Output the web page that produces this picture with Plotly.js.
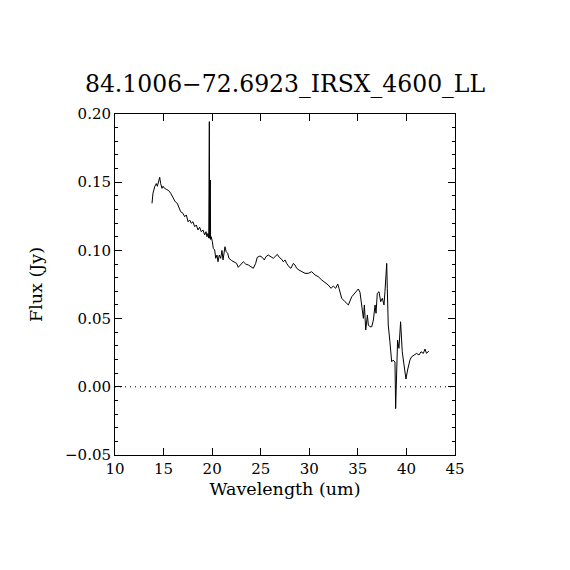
<!DOCTYPE html>
<html>
<head>
<meta charset="utf-8">
<script src="https://cdn.plot.ly/plotly-3.0.1.min.js"></script>
<style>html,body{margin:0;padding:0;background:#fff;}#chart{width:570px;height:570px;}</style>
</head>
<body>
<div id="chart"></div>
<script>
const chartTitle = "84.1006\u221272.6923_IRSX_4600_LL";
const xLabel = "Wavelength (um)";
const yLabel = "Flux (Jy)";

const wavelength = [
  13.81, 13.91, 14.09, 14.25, 14.36, 14.50, 14.60, 14.70, 14.84, 14.94,
  15.10, 15.28, 15.53, 15.73, 15.87, 16.07, 16.20, 16.41, 16.56, 16.76,
  17.00, 17.17, 17.34, 17.52, 17.69, 17.85, 18.03, 18.20, 18.37, 18.54,
  18.71, 18.88, 19.06, 19.23, 19.37, 19.47, 19.57, 19.65, 19.71, 19.74,
  19.81, 19.84, 19.91, 20.02, 20.12, 20.26, 20.37, 20.50, 20.60, 20.74,
  20.88, 21.01, 21.12, 21.32, 21.45, 21.60, 21.73, 22.01, 22.28, 22.52,
  22.69, 22.87, 23.04, 23.21, 23.45, 23.73, 24.00, 24.24, 24.48, 24.64,
  24.92, 25.16, 25.37, 25.54, 25.78, 26.06, 26.30, 26.47, 26.71, 26.91,
  27.16, 27.32, 27.50, 27.67, 27.91, 28.11, 28.36, 28.53, 28.70, 28.94,
  29.22, 29.56, 29.90, 30.25, 30.59, 30.93, 31.28, 31.62, 31.96, 32.24,
  32.47, 32.72, 32.93, 33.06, 33.34, 33.68, 34.02, 34.37, 34.71, 35.05,
  35.22, 35.46, 35.57, 35.67, 35.81, 35.98, 36.08, 36.25, 36.43, 36.60,
  36.77, 36.87, 37.00, 37.18, 37.35, 37.52, 37.69, 37.79, 37.97, 38.03,
  38.13, 38.30, 38.48, 38.64, 38.82, 38.89, 38.99, 39.09, 39.23, 39.40,
  39.57, 39.78, 39.95, 40.12, 40.36, 40.53, 40.80, 41.05, 41.29, 41.50,
  41.74, 41.91, 42.07, 42.30
];

const flux = [
  0.1345, 0.1419, 0.1467, 0.1490, 0.1470, 0.1516, 0.1536, 0.1490, 0.1455, 0.1470,
  0.1455, 0.1448, 0.1438, 0.1419, 0.1400, 0.1375, 0.1357, 0.1345, 0.1316, 0.1284,
  0.1272, 0.1247, 0.1260, 0.1210, 0.1223, 0.1199, 0.1210, 0.1174, 0.1186, 0.1150,
  0.1170, 0.1137, 0.1150, 0.1113, 0.1137, 0.1100, 0.1125, 0.1090, 0.1944, 0.1089,
  0.1516, 0.1080, 0.1100, 0.1064, 0.1015, 0.1003, 0.0942, 0.0966, 0.0917, 0.0966,
  0.0942, 0.1000, 0.0930, 0.1027, 0.0990, 0.0979, 0.0942, 0.0925, 0.0917, 0.0905,
  0.0876, 0.0893, 0.0905, 0.0917, 0.0900, 0.0893, 0.0880, 0.0869, 0.0905, 0.0949,
  0.0959, 0.0949, 0.0930, 0.0954, 0.0966, 0.0954, 0.0942, 0.0954, 0.0971, 0.0949,
  0.0935, 0.0917, 0.0930, 0.0905, 0.0880, 0.0869, 0.0905, 0.0893, 0.0869, 0.0856,
  0.0844, 0.0832, 0.0832, 0.0844, 0.0820, 0.0807, 0.0783, 0.0763, 0.0746, 0.0722,
  0.0739, 0.0722, 0.0754, 0.0722, 0.0649, 0.0624, 0.0600, 0.0660, 0.0685, 0.0717,
  0.0693, 0.0539, 0.0502, 0.0600, 0.0416, 0.0526, 0.0453, 0.0440, 0.0440, 0.0490,
  0.0600, 0.0539, 0.0685, 0.0697, 0.0624, 0.0649, 0.0600, 0.0697, 0.0905, 0.0722,
  0.0453, 0.0330, 0.0184, 0.0196, 0.0180, -0.0160, 0.0099, 0.0343, 0.0282, 0.0477,
  0.0257, 0.0160, 0.0057, 0.0123, 0.0196, 0.0220, 0.0233, 0.0245, 0.0233, 0.0257,
  0.0245, 0.0277, 0.0245, 0.0262
];

const xTickVals = [10, 15, 20, 25, 30, 35, 40, 45];
const yTickVals = [-0.05, 0.00, 0.05, 0.10, 0.15, 0.20];

const FONT = "DejaVu Serif, Liberation Serif, serif";

const trace = {
  x: wavelength,
  y: flux,
  type: "scatter",
  mode: "lines",
  line: {color: "#000", width: 1},
  hoverinfo: "skip"
};

const layout = {
  width: 570,
  height: 570,
  paper_bgcolor: "#fff",
  plot_bgcolor: "#fff",
  showlegend: false,
  margin: {l: 115, r: 115, t: 114, b: 115, pad: 0},
  font: {family: FONT, color: "#000", size: 15},
  title: {
    text: chartTitle,
    font: {family: FONT, size: 23.5, color: "#000"},
    x: 0.5, xanchor: "center",
    y: 1 - 84/570, yanchor: "middle", yref: "container"
  },
  xaxis: {
    range: [10, 45],
    tickvals: xTickVals,
    ticktext: xTickVals.map(v => String(v)),
    ticks: "inside",
    ticklen: 7,
    tickwidth: 1,
    tickcolor: "#000",
    showline: true,
    linecolor: "#000",
    linewidth: 1,
    mirror: "ticks",
    showgrid: false,
    zeroline: false,
    tickfont: {family: FONT, size: 15, color: "#000"},
    title: {text: xLabel, font: {family: FONT, size: 17.5, color: "#000"}, standoff: 5}
  },
  yaxis: {
    range: [-0.05, 0.20],
    tickvals: yTickVals,
    tickformat: ".2f",
    ticks: "inside",
    ticklen: 7,
    tickwidth: 1,
    tickcolor: "#000",
    minor: {dtick: 0.01, ticks: "inside", ticklen: 3, tickcolor: "#000", tickwidth: 1, showgrid: false},
    showline: true,
    linecolor: "#000",
    linewidth: 1,
    mirror: "ticks",
    showgrid: false,
    zeroline: false,
    tickfont: {family: FONT, size: 15, color: "#000"},
    title: {text: yLabel, font: {family: FONT, size: 17.5, color: "#000"}, standoff: 17}
  },
  shapes: [{
    type: "line", xref: "paper", x0: 0, x1: 1, yref: "y", y0: 0, y1: 0,
    line: {color: "#000", width: 1, dash: "1px,4px"}
  }]
};

Plotly.newPlot("chart", [trace], layout, {displayModeBar: false, staticPlot: true});
</script>
</body>
</html>
